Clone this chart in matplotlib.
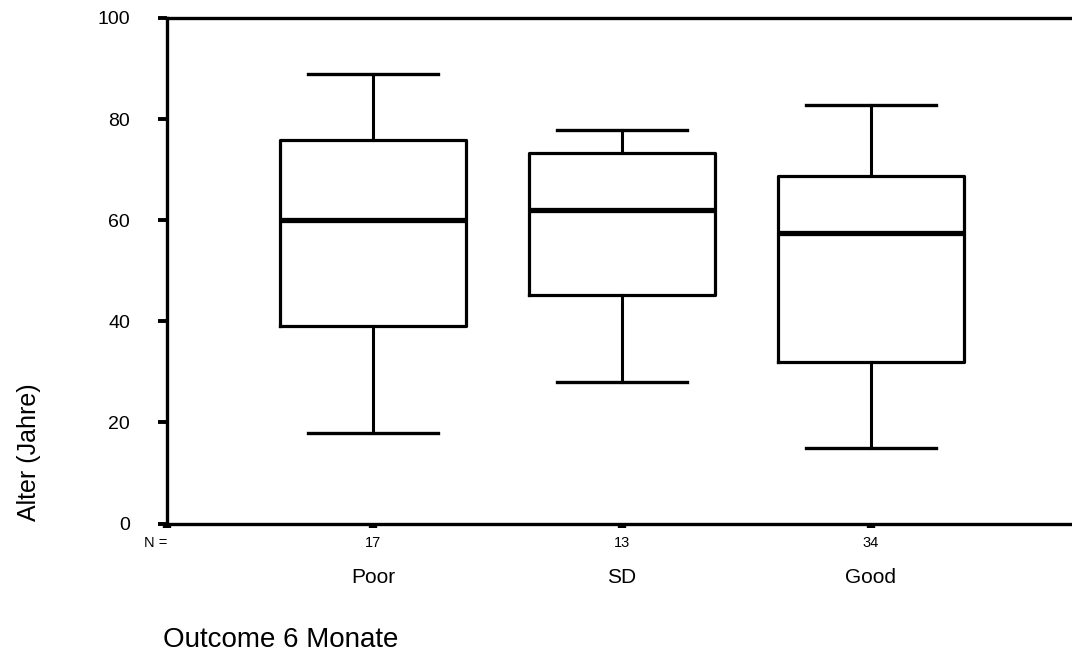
"""Boxplot: Alter (Jahre) nach Outcome 6 Monate (Poor / SD / Good)."""
import matplotlib
matplotlib.use("Agg")
import matplotlib.pyplot as plt
import matplotlib.transforms as mtransforms

plt.rcParams["font.family"] = ["Liberation Sans", "DejaVu Sans"]

# Daten
categories = ["Poor", "SD", "Good"]
n_counts = ["17", "13", "34"]
whisker_low = [18, 28, 15]
q1 = [39, 45.3, 32]
median = [60, 62, 57.5]
q3 = [75.8, 73.2, 68.7]
whisker_high = [89, 77.8, 82.8]
y_ticks = [0, 20, 40, 60, 80, 100]

W, H = 1072, 655
fig = plt.figure(figsize=(W / 100, H / 100), dpi=100)
ax = fig.add_axes([167 / W, 1 - 523.5 / H, 1 - 167 / W, (523.5 - 18) / H])

stats = []
for i, name in enumerate(categories):
    stats.append(dict(label=name, whislo=whisker_low[i], q1=q1[i], med=median[i],
                      q3=q3[i], whishi=whisker_high[i], fliers=[]))

positions = list(range(1, len(categories) + 1))
ax.bxp(stats, positions=positions, widths=0.75, capwidths=0.525, showfliers=False,
       boxprops=dict(color="black", linewidth=2.3),
       whiskerprops=dict(color="black", linewidth=2.2),
       capprops=dict(color="black", linewidth=2.4),
       medianprops=dict(color="black", linewidth=3.8, solid_capstyle="butt"))

xmin = 1 - (373 - 167) / 249
xmax = xmin + (W - 167) / 249
ax.set_xlim(xmin, xmax)
ax.set_ylim(0, 100)

for side in ("left", "bottom", "top"):
    ax.spines[side].set_linewidth(2.4)
ax.spines["right"].set_visible(False)

ax.set_yticks(y_ticks)
ax.set_yticklabels([str(t) for t in y_ticks], fontsize=14)
ax.tick_params(axis="y", direction="out", length=6.5, width=2.8, pad=20)

ax.set_xticks([xmin] + positions)
ax.set_xticklabels(["N ="] + n_counts, fontsize=10.5)
ax.tick_params(axis="x", direction="out", length=3, width=6, pad=6)
ax.get_xticklabels()[0].set_ha("right")

trans = mtransforms.blended_transform_factory(ax.transData, fig.transFigure)
for pos, name in zip(positions, categories):
    ax.text(pos, 1 - 583 / H, name, transform=trans, ha="center", va="baseline", fontsize=15)

fig.text(29 / W, 1 - 452 / H, "Alter (Jahre)", rotation=90, ha="center", va="center", fontsize=18)
fig.text(163 / W, 1 - 647 / H, "Outcome 6 Monate", ha="left", va="baseline", fontsize=20)

fig.savefig("out.png", dpi=100)
